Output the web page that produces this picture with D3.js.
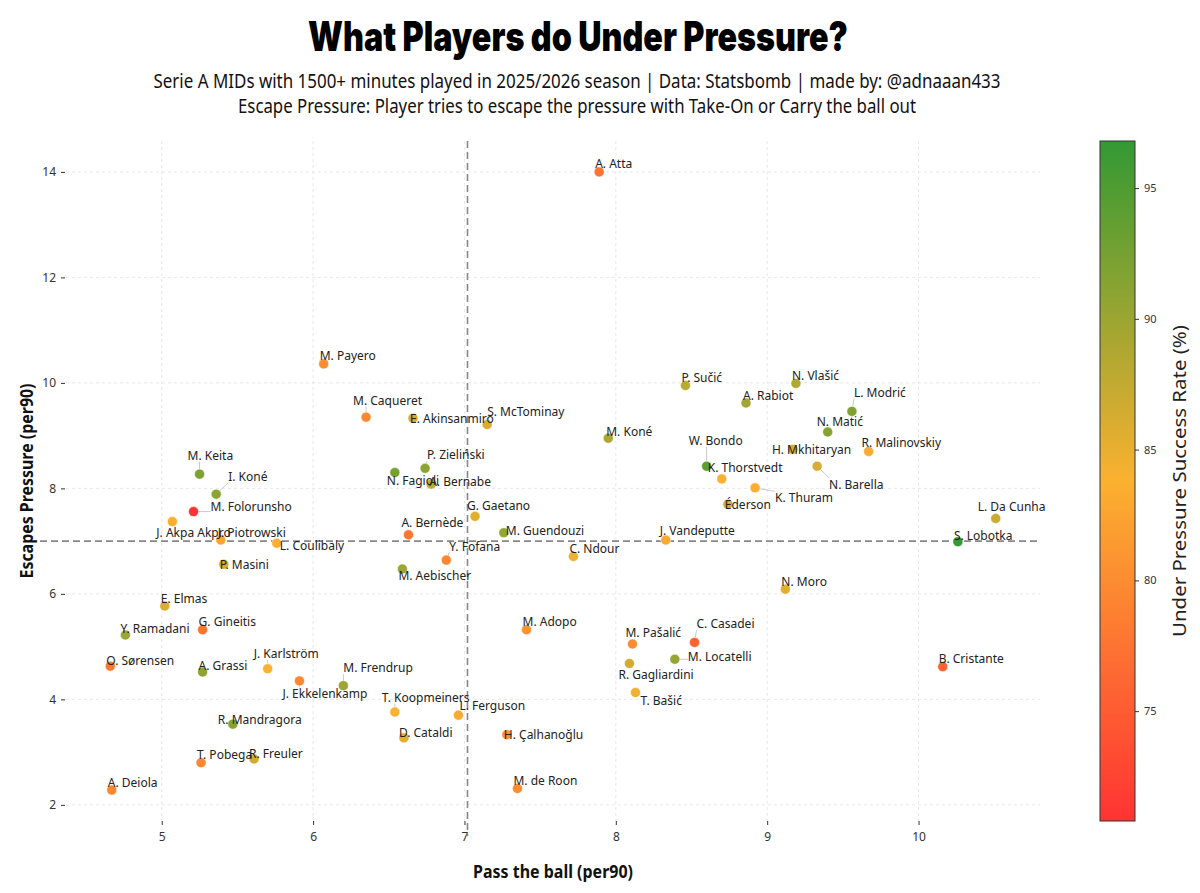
<!DOCTYPE html>
<html>
<head>
<meta charset="utf-8">
<script src="https://cdn.jsdelivr.net/npm/d3@7"></script>
<style>
  body { margin: 0; background: #fff; }
  svg { display: block; }
</style>
</head>
<body>
<svg id="chart" width="1200" height="893"></svg>
<script>
// players, passes under pressure, escapes under pressure, success rate (%)
var players = ["A. Atta","M. Payero","M. Caqueret","E. Akinsanmiro","S. McTominay","M. Keita","I. Koné","M. Folorunsho",
  "J. Akpa Akpro","J. Piotrowski","L. Coulibaly","P. Masini","N. Fagioli","P. Zieliński","A. Bernabe","G. Gaetano",
  "A. Bernède","Y. Fofana","M. Aebischer","E. Elmas","M. Guendouzi","C. Ndour","M. Koné","A. Rabiot",
  "L. Modrić","N. Matić","W. Bondo","H. Mkhitaryan","R. Malinovskiy","K. Thorstvedt","N. Barella","K. Thuram",
  "Éderson","J. Vandeputte","P. Sučić","N. Vlašić","L. Da Cunha","S. Lobotka","N. Moro","M. Pašalić",
  "C. Casadei","M. Locatelli","R. Gagliardini","T. Bašić","B. Cristante","Y. Ramadani","G. Gineitis","O. Sørensen",
  "A. Grassi","J. Karlström","J. Ekkelenkamp","M. Frendrup","T. Koopmeiners","L. Ferguson","D. Cataldi","H. Çalhanoğlu",
  "M. Adopo","R. Mandragora","T. Pobega","R. Freuler","A. Deiola","M. de Roon"];

var passes = [7.89,6.07,6.35,6.66,7.15,5.25,5.36,5.21,
  5.07,5.39,5.76,5.41,6.54,6.74,6.78,7.07,
  6.63,6.88,6.59,5.02,7.26,7.72,7.95,8.86,
  9.56,9.40,8.60,9.17,9.67,8.70,9.33,8.92,
  8.74,8.33,8.46,9.19,10.51,10.26,9.12,8.11,
  8.52,8.39,8.09,8.13,10.16,4.76,5.27,4.66,
  5.27,5.70,5.91,6.20,6.54,6.96,6.60,7.28,
  7.41,5.47,5.26,5.61,4.67,7.35];

var escapes = [14.00,10.36,9.35,9.33,9.21,8.27,7.89,7.56,
  7.37,7.02,6.96,6.56,8.30,8.38,8.08,7.47,
  7.12,6.64,6.47,5.77,7.16,6.71,8.95,9.62,
  9.46,9.07,8.42,8.74,8.70,8.18,8.42,8.01,
  7.70,7.02,9.95,9.99,7.43,6.99,6.09,5.05,
  5.08,4.76,4.68,4.13,4.62,5.22,5.32,4.63,
  4.52,4.58,4.35,4.26,3.76,3.70,3.27,3.33,
  5.32,3.53,2.80,2.87,2.28,2.31];

var successRate = [77.5,80.0,79.5,86.5,86.0,92.0,91.0,70.8,
  83.5,82.5,83.5,86.5,92.5,91.0,87.5,85.5,
  77.5,79.5,90.0,86.0,90.5,84.5,89.0,89.5,
  92.0,91.5,94.0,86.0,83.0,84.0,86.0,83.5,
  86.5,83.0,88.0,88.5,87.0,96.8,85.5,80.0,
  75.5,90.5,86.5,84.5,75.8,90.0,77.5,78.0,
  91.0,84.0,79.5,90.0,84.0,83.0,85.5,80.5,
  80.5,91.5,79.5,86.5,79.5,80.0];

var meanPass = 7.02;
var meanEscape = 7.0;

var xTicks = [5, 6, 7, 8, 9, 10];
var yTicks = [2, 4, 6, 8, 10, 12, 14];
var cbTicks = [75, 80, 85, 90, 95];

// label layout (text left edge / vertical middle relative to the dot, px) - mimics adjustText output
var labelNudge = {
  "M. Caqueret":[-13,-17], "E. Akinsanmiro":[-3,0], "S. McTominay":[0,-13], "M. Keita":[-12,-19],
  "I. Koné":[12,-18], "M. Folorunsho":[17,-5], "J. Akpa Akpro":[-16,11], "J. Piotrowski":[-3,-8],
  "L. Coulibaly":[3,2], "P. Masini":[-4,0], "N. Fagioli":[-8,8], "P. Zieliński":[2,-14],
  "A. Bernabe":[-2,-3], "G. Gaetano":[-8,-11], "A. Bernède":[-7,-12], "Y. Fofana":[3,-14],
  "M. Aebischer":[-4,6], "M. Guendouzi":[2,-2], "M. Koné":[-2,-7], "A. Rabiot":[-3,-7],
  "L. Modrić":[2,-19], "N. Matić":[-11,-10], "W. Bondo":[-18,-26], "H. Mkhitaryan":[-21,0],
  "R. Malinovskiy":[-7,-9], "K. Thorstvedt":[-14,-11], "N. Barella":[12,18], "K. Thuram":[20,10],
  "Éderson":[-3,0], "J. Vandeputte":[-6,-10], "L. Da Cunha":[-18,-12], "S. Lobotka":[-4,-6],
  "M. Pašalić":[-7,-11], "C. Casadei":[2,-19], "M. Locatelli":[13,-3], "R. Gagliardini":[-11,11],
  "T. Bašić":[5,8], "Y. Ramadani":[-5,-7], "O. Sørensen":[-4,-6], "A. Grassi":[-4,-6],
  "J. Karlström":[-14,-15], "J. Ekkelenkamp":[-17,13], "M. Frendrup":[0,-18], "T. Koopmeiners":[-13,-15],
  "L. Ferguson":[1,-10], "D. Cataldi":[-5,-5], "H. Çalhanoğlu":[-3,0], "R. Mandragora":[-15,-5],
  "R. Freuler":[-5,-5]
};
var defaultNudge = [-4, -8];
var withLeader = ["M. Caqueret","S. McTominay","M. Keita","I. Koné","M. Folorunsho","J. Akpa Akpro","J. Piotrowski",
  "P. Zieliński","Y. Fofana","M. Aebischer","W. Bondo","K. Thorstvedt","N. Barella","K. Thuram","L. Modrić",
  "L. Da Cunha","C. Casadei","M. Locatelli","T. Bašić","J. Karlström","J. Ekkelenkamp","M. Frendrup",
  "T. Koopmeiners","L. Ferguson"];

var data = players.map(function(p, i) {
  return { name: p, x: passes[i], y: escapes[i], rate: successRate[i] };
});

var svg = d3.select("#chart");
var plotLeft = 66, plotRight = 1040, plotTop = 141, plotBottom = 821;

// matplotlib-like 5% margins around the data
var xExt = d3.extent(passes), yExt = d3.extent(escapes);
var xPad = (xExt[1] - xExt[0]) * 0.05, yPad = (yExt[1] - yExt[0]) * 0.05;
var x = d3.scaleLinear().domain([xExt[0] - xPad, xExt[1] + xPad]).range([plotLeft, plotRight]);
var y = d3.scaleLinear().domain([yExt[0] - yPad, yExt[1] + yPad]).range([plotBottom, plotTop]);

var rateExt = d3.extent(successRate);
var color = d3.scaleLinear()
  .domain([rateExt[0], (rateExt[0] + rateExt[1]) / 2, rateExt[1]])
  .range(["#ff3333", "#fbb130", "#339933"]);

var labelFont = "'Noto Sans', 'DejaVu Sans', sans-serif";

// grid
svg.append("g").selectAll("line").data(xTicks).join("line")
  .attr("x1", d => x(d)).attr("x2", d => x(d)).attr("y1", plotTop).attr("y2", plotBottom)
  .attr("stroke", "#e2e2e2").attr("stroke-width", 0.8).attr("stroke-dasharray", "3,3");
svg.append("g").selectAll("line").data(yTicks).join("line")
  .attr("x1", plotLeft).attr("x2", plotRight).attr("y1", d => y(d)).attr("y2", d => y(d))
  .attr("stroke", "#e2e2e2").attr("stroke-width", 0.8).attr("stroke-dasharray", "3,3");

// axes (no spines, only ticks)
var xAxis = svg.append("g").attr("transform", "translate(0," + plotBottom + ")")
  .call(d3.axisBottom(x).tickValues(xTicks).tickSize(4).tickPadding(7).tickFormat(d3.format("d")));
var yAxis = svg.append("g").attr("transform", "translate(" + (plotLeft - 1) + ",0)")
  .call(d3.axisLeft(y).tickValues(yTicks).tickSize(4).tickPadding(5).tickFormat(d3.format("d")));
[xAxis, yAxis].forEach(function(a) {
  a.select(".domain").remove();
  a.selectAll(".tick line").attr("stroke", "#333").attr("stroke-width", 1);
  a.selectAll(".tick text").attr("fill", "#333").style("font-family", labelFont).style("font-size", "12px");
});

// mean lines
svg.append("line")
  .attr("x1", x(meanPass)).attr("x2", x(meanPass)).attr("y1", plotTop).attr("y2", plotBottom + 15)
  .attr("stroke", "#888").attr("stroke-width", 1.6).attr("stroke-dasharray", "7,4");
svg.append("line")
  .attr("x1", 40).attr("x2", plotRight).attr("y1", y(meanEscape)).attr("y2", y(meanEscape))
  .attr("stroke", "#888").attr("stroke-width", 1.6).attr("stroke-dasharray", "7,4");

// leader lines layer, then points, then labels
var leaderG = svg.append("g");
svg.append("g").selectAll("circle").data(data).join("circle")
  .attr("cx", d => x(d.x)).attr("cy", d => y(d.y)).attr("r", 5)
  .attr("fill", d => color(d.rate)).attr("stroke", "#fff").attr("stroke-width", 0.5);

var labels = svg.append("g").selectAll("text").data(data).join("text")
  .attr("x", d => x(d.x) + (labelNudge[d.name] || defaultNudge)[0])
  .attr("y", d => y(d.y) + (labelNudge[d.name] || defaultNudge)[1])
  .attr("dominant-baseline", "central")
  .attr("fill", "#222")
  .style("font-family", labelFont).style("font-size", "12px")
  .text(d => d.name);

labels.each(function(d) {
  if (withLeader.indexOf(d.name) < 0) return;
  var b = this.getBBox();
  var px = x(d.x), py = y(d.y);
  var cx = Math.max(b.x, Math.min(px, b.x + b.width));
  var cy = Math.max(b.y + 2, Math.min(py, b.y + b.height - 2));
  leaderG.append("line")
    .attr("x1", px).attr("y1", py).attr("x2", cx).attr("y2", cy)
    .attr("stroke", "#bbb").attr("stroke-width", 0.8);
});

// titles
svg.append("text").attr("x", 578).attr("y", 51).attr("text-anchor", "middle")
  .attr("textLength", 540).attr("lengthAdjust", "spacingAndGlyphs")
  .style("font-family", "Inter, Roboto, sans-serif").style("font-weight", 900).style("font-size", "41px")
  .attr("fill", "#000").text("What Players do Under Pressure?");
svg.append("text").attr("x", 577).attr("y", 88).attr("text-anchor", "middle")
  .attr("textLength", 847).attr("lengthAdjust", "spacingAndGlyphs")
  .style("font-family", labelFont).style("font-size", "19px").attr("fill", "#111")
  .text("Serie A MIDs with 1500+ minutes played in 2025/2026 season | Data: Statsbomb | made by: @adnaaan433");
svg.append("text").attr("x", 577).attr("y", 113).attr("text-anchor", "middle")
  .attr("textLength", 678).attr("lengthAdjust", "spacingAndGlyphs")
  .style("font-family", labelFont).style("font-size", "19px").attr("fill", "#111")
  .text("Escape Pressure: Player tries to escape the pressure with Take-On or Carry the ball out");

// axis titles
svg.append("text").attr("x", 553).attr("y", 878).attr("text-anchor", "middle")
  .attr("textLength", 160).attr("lengthAdjust", "spacingAndGlyphs")
  .style("font-family", labelFont).style("font-weight", 700).style("font-size", "17px")
  .attr("fill", "#111").text("Pass the ball (per90)");
svg.append("text").attr("transform", "translate(33,481) rotate(-90)").attr("text-anchor", "middle")
  .attr("textLength", 195).attr("lengthAdjust", "spacingAndGlyphs")
  .style("font-family", labelFont).style("font-weight", 700).style("font-size", "17px")
  .attr("fill", "#111").text("Escapes Pressure (per90)");

// colorbar
var cbX = 1100, cbW = 35;
var cbScale = d3.scaleLinear().domain(rateExt).range([plotBottom, plotTop]);
var grad = svg.append("defs").append("linearGradient").attr("id", "cbgrad")
  .attr("x1", 0).attr("x2", 0).attr("y1", 1).attr("y2", 0);
grad.selectAll("stop").data(d3.range(0, 1.0001, 0.05)).join("stop")
  .attr("offset", d => d)
  .attr("stop-color", d => color(rateExt[0] + d * (rateExt[1] - rateExt[0])));
svg.append("rect").attr("x", cbX).attr("y", plotTop).attr("width", cbW).attr("height", plotBottom - plotTop)
  .attr("fill", "url(#cbgrad)").attr("stroke", "#333").attr("stroke-width", 1);
var cbAxis = svg.append("g").attr("transform", "translate(" + (cbX + cbW) + ",0)")
  .call(d3.axisRight(cbScale).tickValues(cbTicks).tickSize(4).tickPadding(5));
cbAxis.select(".domain").remove();
cbAxis.selectAll(".tick line").attr("stroke", "#333");
cbAxis.selectAll(".tick text").attr("fill", "#333").style("font-family", labelFont).style("font-size", "11px");
svg.append("text").attr("transform", "translate(1186,481) rotate(-90)").attr("text-anchor", "middle")
  .attr("textLength", 312).attr("lengthAdjust", "spacingAndGlyphs")
  .style("font-family", labelFont).style("font-size", "18px").attr("fill", "#222")
  .text("Under Pressure Success Rate (%)");
</script>
</body>
</html>
